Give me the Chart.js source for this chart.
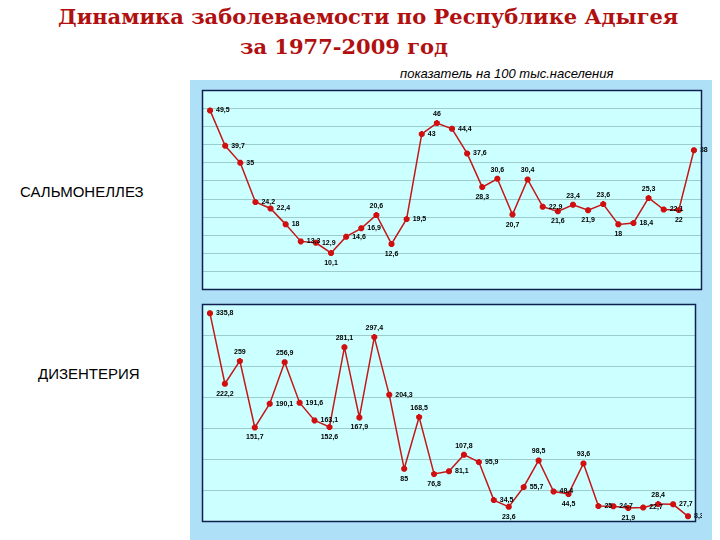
<!DOCTYPE html>
<html><head><meta charset="utf-8">
<script src="https://cdn.jsdelivr.net/npm/chart.js@4"></script>
<style>
body{margin:0;width:720px;height:540px;background:#fff;position:relative;overflow:hidden;font-family:"Liberation Serif",serif}
.t{position:absolute;color:#b01010;font-weight:bold;font-size:22px;font-family:"DejaVu Serif",serif;white-space:nowrap}
.lab{position:absolute;font-family:"Liberation Sans",Arial;font-size:15px;color:#000}
#bg{position:absolute;left:190px;top:80px;width:522px;height:460px;background:#aee0f8}
.c{position:absolute}
</style></head><body>
<div class="t" style="left:58px;top:4px;font-size:21px">Динамика заболеваемости по Республике Адыгея</div>
<div class="t" style="left:240px;top:34px;font-size:21px">за 1977-2009 год</div>
<div class="lab" style="left:400px;top:66px;font-style:italic;font-size:13px">показатель на 100 тыс.населения</div>
<div id="bg"></div>
<div class="lab" style="left:20px;top:183px">САЛЬМОНЕЛЛЕЗ</div>
<div class="lab" style="left:38px;top:365px">ДИЗЕНТЕРИЯ</div>
<div class="c" style="left:196px;top:84px;width:512px;height:212px"><canvas id="c1"></canvas></div>
<div class="c" style="left:196px;top:298px;width:506px;height:230px"><canvas id="c2"></canvas></div>
<script>
const years=[];for(let y=1977;y<=2009;y++)years.push(String(y));
const salmonella=[49.5,39.7,35,24.2,22.4,18,13.3,12.9,10.1,14.6,16.9,20.6,12.6,19.5,43.0,46,44.4,37.6,28.3,30.6,20.7,30.4,22.9,21.6,23.4,21.9,23.6,18,18.4,25.3,22.1,22,38.5];
const dysentery=[335.8,222.2,259,151.7,190.1,256.9,191.6,163.1,152.6,281.1,167.9,297.4,204.3,85,168.5,76.8,81.1,107.8,95.9,34.5,23.6,55.7,98.5,48.4,44.5,93.6,25,24.7,21.9,22.7,28.4,27.7,8.3];
const fmt=v=>String(v).replace('.',',');
const labels={id:'lbl',afterDatasetsDraw(ch){const c=ch.ctx,m=ch.getDatasetMeta(0),d=ch.data.datasets[0].data;
c.save();c.font='bold 7px Arial';c.fillStyle='#000';
m.data.forEach((p,i)=>{const v=d[i],pv=d[i-1]??v,nv=d[i+1]??v;let x=p.x+6,y=p.y,al='left';
if(v<pv&&v<nv){x=p.x;y=p.y+10;al='center';}else if(v>pv&&v>nv&&i>0){x=p.x;y=p.y-9;al='center';}
c.textAlign=al;c.textBaseline='middle';c.fillText(fmt(v),x,y);});c.restore();}};
const frame={id:'frame',beforeDraw(ch){const a=ch.chartArea,c=ch.ctx;c.save();c.fillStyle='#ccffff';c.fillRect(a.left,a.top,a.right-a.left,a.bottom-a.top);c.restore();},
afterDraw(ch){const a=ch.chartArea,c=ch.ctx;c.save();c.strokeStyle='#102050';c.lineWidth=1.5;c.strokeRect(a.left,a.top,a.right-a.left,a.bottom-a.top);c.restore();}};
function mk(id,data,max,step){new Chart(document.getElementById(id),{type:'line',
data:{labels:years,datasets:[{data,borderColor:'#c41818',borderWidth:1.5,pointStyle:'star',pointRadius:3,pointBorderColor:'#d01010',pointBackgroundColor:'#d01010',pointBorderWidth:2.5,tension:0}]},
options:{responsive:true,maintainAspectRatio:false,animation:false,layout:{padding:{left:6,right:4,top:4,bottom:4}},
plugins:{legend:{display:false},tooltip:{enabled:false}},
scales:{x:{display:false,offset:true},y:{display:true,min:0,max,ticks:{display:false,stepSize:step},grid:{color:'#9ccccc',drawTicks:false},border:{display:false}}}},plugins:[frame,labels]});}
mk('c1',salmonella,55,5);
mk('c2',dysentery,350,50);
</script></body></html>
